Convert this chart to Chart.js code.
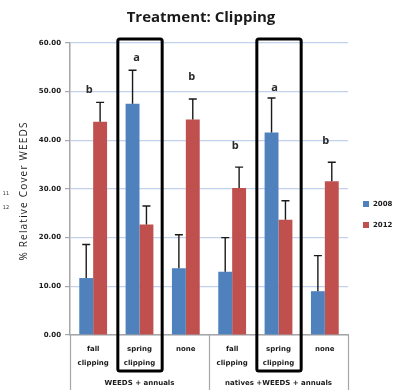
<!DOCTYPE html>
<html>
<head>
<meta charset="utf-8">
<script src="https://cdn.jsdelivr.net/npm/chart.js@4.4.1/dist/chart.umd.min.js"></script>
<style>
  html, body { margin: 0; padding: 0; background: #fff; }
  #wrap { width: 404px; height: 390px; }
</style>
</head>
<body>
<div id="wrap"><canvas id="c" width="404" height="390"></canvas></div>
<script>
// Treatments (first axis level) and their parent groups (second level)
const categories = ['fall clipping', 'spring clipping', 'none', 'fall clipping', 'spring clipping', 'none'];
const categoryLines = [['fall', 'clipping'], ['spring', 'clipping'], ['none'], ['fall', 'clipping'], ['spring', 'clipping'], ['none']];
const groups = ['WEEDS + annuals', 'natives +WEEDS + annuals'];
const groupSize = 3;

const years = ['2008', '2012'];
// % relative cover of WEEDS
const cover2008 = [11.7, 47.5, 13.7, 13.0, 41.6, 9.0];
const cover2012 = [43.8, 22.7, 44.3, 30.2, 23.7, 31.6];
// upper error bar lengths
const err2008 = [6.9, 6.9, 6.9, 7.0, 7.1, 7.3];
const err2012 = [4.0, 3.8, 4.2, 4.3, 3.9, 3.9];
// significance letters per treatment
const sigLetters = ['b', 'a', 'b', 'b', 'a', 'b'];
// treatments outlined with a box
const highlighted = ['spring clipping'];

const yMin = 0, yMax = 60, yStep = 10;

const BLUE = '#4f81bd';
const RED = '#c0504d';
const GRID = '#c3d2ec';
const AXIS = '#a6a6a6';

const decorations = {
  id: 'decorations',
  afterDatasetsDraw(chart, args, opts) {
    const ctx = chart.ctx;
    const x = chart.scales.x, y = chart.scales.y;
    const area = chart.chartArea;
    const errs = [err2008, err2012];

    ctx.save();
    // error bars (upper only)
    ctx.strokeStyle = '#1a1a1a';
    ctx.lineWidth = 1.4;
    chart.data.datasets.forEach((ds, di) => {
      const meta = chart.getDatasetMeta(di);
      meta.data.forEach((bar, i) => {
        const top = y.getPixelForValue(ds.data[i] + errs[di][i]);
        ctx.beginPath();
        ctx.moveTo(bar.x, bar.y);
        ctx.lineTo(bar.x, top);
        ctx.moveTo(bar.x - 4, top);
        ctx.lineTo(bar.x + 4, top);
        ctx.stroke();
      });
    });

    // significance letters
    ctx.fillStyle = '#2b2b2b';
    ctx.font = 'bold 11px "Open Sans"';
    ctx.textAlign = 'center';
    ctx.textBaseline = 'middle';
    sigLetters.forEach((l, i) => {
      const capTop = Math.min(
        y.getPixelForValue(cover2008[i] + err2008[i]),
        y.getPixelForValue(cover2012[i] + err2012[i])
      );
      ctx.fillText(l, x.getPixelForTick(i) + opts.letterShiftX[i], capTop - opts.letterLift[i]);
    });

    // outlined treatments
    const half = (x.getPixelForTick(1) - x.getPixelForTick(0)) / 2;
    ctx.strokeStyle = '#000';
    ctx.lineWidth = 3;
    ctx.lineJoin = 'round';
    categories.forEach((c, i) => {
      if (!highlighted.includes(c)) return;
      const cx = x.getPixelForTick(i);
      ctx.beginPath();
      ctx.roundRect(cx - half + 1.5, area.top - 4, 2 * half - 2, 332, 2);
      ctx.stroke();
    });
    ctx.restore();
  },
  afterDraw(chart) {
    const ctx = chart.ctx;
    const x = chart.scales.x;
    const area = chart.chartArea;
    ctx.save();

    // title
    ctx.fillStyle = '#1a1a1a';
    ctx.font = 'bold 15px "Open Sans"';
    ctx.textAlign = 'center';
    ctx.textBaseline = 'middle';
    ctx.fillText('Treatment: Clipping', 201, 18);

    // y axis title
    ctx.save();
    ctx.translate(24, 191);
    ctx.rotate(-Math.PI / 2);
    ctx.font = '10px "Open Sans"';
    ctx.letterSpacing = '1.2px';
    ctx.fillStyle = '#1a1a1a';
    ctx.fillText('% Relative Cover WEEDS', 0, 0);
    ctx.restore();

    // small row numbers at the left edge
    ctx.font = '5px "DejaVu Sans"';
    ctx.fillStyle = '#333';
    ctx.fillText('11', 6, 194);
    ctx.fillText('12', 6, 208);

    // first level category labels
    ctx.font = 'bold 7px "DejaVu Sans"';
    ctx.fillStyle = '#1a1a1a';
    categoryLines.forEach((lines, i) => {
      const cx = x.getPixelForTick(i);
      lines.forEach((t, k) => ctx.fillText(t, cx, 349 + k * 14));
    });

    // group labels and dividers
    const half = (x.getPixelForTick(1) - x.getPixelForTick(0)) / 2;
    const bounds = [area.left];
    groups.forEach((g, gi) => {
      const last = x.getPixelForTick(gi * groupSize + groupSize - 1) + half;
      bounds.push(last);
      ctx.fillText(g, (bounds[gi] + last) / 2, 383);
    });
    ctx.strokeStyle = AXIS;
    ctx.lineWidth = 1.2;
    bounds.forEach(bx => {
      ctx.beginPath();
      ctx.moveTo(Math.round(bx) + 0.5, area.bottom);
      ctx.lineTo(Math.round(bx) + 0.5, 390);
      ctx.stroke();
    });

    // legend
    ctx.font = 'bold 7px "DejaVu Sans"';
    ctx.textAlign = 'left';
    [BLUE, RED].forEach((col, i) => {
      const ly = 204 + i * 21;
      ctx.fillStyle = col;
      ctx.fillRect(363, ly - 3, 6, 6);
      ctx.fillStyle = '#1a1a1a';
      ctx.fillText(years[i], 373, ly);
    });
    ctx.restore();
  }
};

new Chart(document.getElementById('c'), {
  type: 'bar',
  data: {
    labels: categories,
    datasets: [
      { label: years[0], data: cover2008, backgroundColor: BLUE, categoryPercentage: 0.6, barPercentage: 1.0 },
      { label: years[1], data: cover2012, backgroundColor: RED, categoryPercentage: 0.6, barPercentage: 1.0 }
    ]
  },
  options: {
    responsive: false,
    animation: false,
    devicePixelRatio: 1,
    layout: { padding: { top: 43, right: 56, left: 0, bottom: 0 } },
    plugins: {
      legend: { display: false },
      tooltip: { enabled: false },
      decorations: {
        letterLift: [13, 12, 22, 21, 10, 21],
        letterShiftX: [-4, -3, 6, 3, -4, 1]
      }
    },
    scales: {
      x: {
        ticks: { display: false },
        grid: { display: false },
        border: { color: AXIS, width: 1.5 },
        afterFit(s) { s.height = 55; }
      },
      y: {
        min: yMin,
        max: yMax,
        ticks: {
          stepSize: yStep,
          padding: 4,
          color: '#1a1a1a',
          font: { family: 'DejaVu Sans', size: 7, weight: 'bold' },
          callback: v => v.toFixed(2)
        },
        grid: { color: GRID, lineWidth: 1.2, tickLength: 5, tickColor: AXIS },
        border: { color: AXIS, width: 1.5 },
        afterFit(s) { s.width = 70; }
      }
    }
  },
  plugins: [decorations]
});
</script>
</body>
</html>
